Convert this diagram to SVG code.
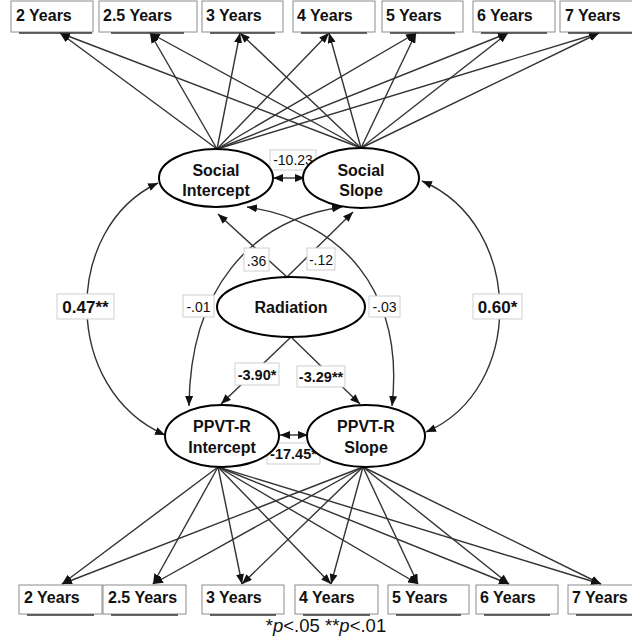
<svg xmlns="http://www.w3.org/2000/svg" width="632" height="637" viewBox="0 0 632 637">
<style>
.box{fill:#fff;stroke:#8c8c8c;stroke-width:1}
.shadow{stroke:#333;stroke-width:1.6}
.bt{font-family:"Liberation Sans",Arial,sans-serif;font-weight:bold;font-size:16px;fill:#111}
.ell{fill:#fff;stroke:#000;stroke-width:2}
.et{font-family:"Liberation Sans",Arial,sans-serif;font-weight:bold;font-size:16px;fill:#111;text-anchor:middle}
.c{fill:none;stroke:#333;stroke-width:1.4;marker-end:url(#ah)}
.d{fill:none;stroke:#333;stroke-width:1.4;marker-end:url(#ah);marker-start:url(#ah)}
.lb{fill:#fff;stroke:#cfcfcf;stroke-width:1}
.lt{font-family:"Liberation Sans",Arial,sans-serif;font-size:14px;fill:#111;text-anchor:middle}
.ltb{font-family:"Liberation Sans",Arial,sans-serif;font-size:14.5px;font-weight:bold;fill:#111;text-anchor:middle}
.big{font-family:"Liberation Sans",Arial,sans-serif;font-size:17px;font-weight:bold;fill:#111;text-anchor:middle}
</style>
<defs>
<marker id="ah" viewBox="0 0 10 8" refX="10" refY="4" markerWidth="10" markerHeight="8" markerUnits="userSpaceOnUse" orient="auto-start-reverse">
<path d="M0,0 L10,4 L0,8 z" fill="#111"/>
</marker>
</defs>
<rect width="632" height="637" fill="#fff"/>

<g id="connectors">
<!-- Social Intercept loadings -->
<path class="c" d="M217,149 L60,33"/>
<path class="c" d="M217,149 L150,33"/>
<path class="c" d="M217,149 L240,33"/>
<path class="c" d="M217,149 L329,33"/>
<path class="c" d="M217,149 L416,33"/>
<path class="c" d="M217,149 L508,33"/>
<path class="c" d="M217,149 L599,33"/>
<!-- Social Slope loadings -->
<path class="c" d="M361,148 L60,33"/>
<path class="c" d="M361,148 L150,33"/>
<path class="c" d="M361,148 L240,33"/>
<path class="c" d="M361,148 L329,33"/>
<path class="c" d="M361,148 L416,33"/>
<path class="c" d="M361,148 L508,33"/>
<path class="c" d="M361,148 L599,33"/>
<!-- PPVT-R Intercept loadings -->
<path class="c" d="M218,467 L62,584"/>
<path class="c" d="M218,467 L153,584"/>
<path class="c" d="M218,467 L242,584"/>
<path class="c" d="M218,467 L331,584"/>
<path class="c" d="M218,467 L418,584"/>
<path class="c" d="M218,467 L509,584"/>
<path class="c" d="M218,467 L601,584"/>
<!-- PPVT-R Slope loadings -->
<path class="c" d="M363,467 L62,584"/>
<path class="c" d="M363,467 L153,584"/>
<path class="c" d="M363,467 L242,584"/>
<path class="c" d="M363,467 L331,584"/>
<path class="c" d="M363,467 L418,584"/>
<path class="c" d="M363,467 L509,584"/>
<path class="c" d="M363,467 L601,584"/>
<!-- covariances -->
<path class="d" d="M273,178 L305,178"/>
<path class="d" d="M280,435 L308,435"/>
<path class="d" d="M158,183 C62,228 62,390 165,435"/>
<path class="d" d="M422,181 C525,225 525,390 426,432"/>
<path class="d" d="M342,207 C250,220 190,290 189,406"/>
<path class="d" d="M247,207 C340,220 405,290 392,406"/>
<!-- radiation paths -->
<path class="c" d="M287,277 L218,214"/>
<path class="c" d="M287,277 L353,212"/>
<path class="c" d="M291,337 L221,404"/>
<path class="c" d="M291,337 L360,404"/>
</g>

<g id="labels">
<rect class="lb" x="270" y="150" width="46" height="20"/>
<text class="lt" x="293" y="165">-10.23</text>
<rect class="lb" x="244" y="248" width="25" height="23"/>
<text class="lt" x="256.5" y="266">.36</text>
<rect class="lb" x="307" y="248" width="28" height="22"/>
<text class="lt" x="321" y="265">-.12</text>
<rect class="lb" x="183" y="295" width="31" height="22"/>
<text class="lt" x="198.5" y="312">-.01</text>
<rect class="lb" x="369" y="296" width="31" height="21"/>
<text class="lt" x="384.5" y="312">-.03</text>
<rect class="lb" x="57" y="294" width="57" height="25"/>
<text class="big" x="85.5" y="313">0.47**</text>
<rect class="lb" x="473" y="294" width="49" height="25"/>
<text class="big" x="497.5" y="313">0.60*</text>
<rect class="lb" x="235" y="363" width="44" height="22"/>
<text class="ltb" x="257" y="380">-3.90*</text>
<rect class="lb" x="297" y="366" width="48" height="21"/>
<text class="ltb" x="321" y="382">-3.29**</text>
<rect class="lb" x="267" y="443" width="53" height="21"/>
<text class="ltb" x="293.5" y="459">-17.45*</text>
</g>

<g id="social-intercept">
<ellipse class="ell" cx="216" cy="178" rx="57" ry="29"/>
<text class="et" x="216" y="176">Social</text>
<text class="et" x="216" y="196">Intercept</text>
</g>
<g id="social-slope">
<ellipse class="ell" cx="361" cy="178" rx="58" ry="30"/>
<text class="et" x="361" y="176">Social</text>
<text class="et" x="361" y="196">Slope</text>
</g>
<g id="radiation">
<ellipse class="ell" cx="291" cy="307" rx="74" ry="30"/>
<text class="et" x="291" y="313">Radiation</text>
</g>
<g id="ppvt-intercept">
<ellipse class="ell" cx="222" cy="436" rx="57" ry="31"/>
<text class="et" x="222" y="432">PPVT-R</text>
<text class="et" x="222" y="453">Intercept</text>
</g>
<g id="ppvt-slope">
<ellipse class="ell" cx="366" cy="436" rx="59" ry="31"/>
<text class="et" x="366" y="432">PPVT-R</text>
<text class="et" x="366" y="453">Slope</text>
</g>

<g id="top-2y"><rect class="box" x="11" y="1" width="82" height="31"/><line class="shadow" x1="19" y1="33" x2="92" y2="33"/><text class="bt" x="16" y="21">2 Years</text></g>
<g id="top-2-5y"><rect class="box" x="99" y="1" width="98" height="31"/><line class="shadow" x1="111" y1="33" x2="184" y2="33"/><text class="bt" x="103" y="21">2.5 Years</text></g>
<g id="top-3y"><rect class="box" x="202" y="1" width="81" height="31"/><line class="shadow" x1="210" y1="33" x2="275" y2="33"/><text class="bt" x="206" y="21">3 Years</text></g>
<g id="top-4y"><rect class="box" x="293" y="1" width="82" height="31"/><line class="shadow" x1="301" y1="33" x2="367" y2="33"/><text class="bt" x="297" y="21">4 Years</text></g>
<g id="top-5y"><rect class="box" x="382" y="1" width="81" height="31"/><line class="shadow" x1="390" y1="33" x2="455" y2="33"/><text class="bt" x="386" y="21">5 Years</text></g>
<g id="top-6y"><rect class="box" x="473" y="1" width="82" height="31"/><line class="shadow" x1="481" y1="33" x2="547" y2="33"/><text class="bt" x="477" y="21">6 Years</text></g>
<g id="top-7y"><rect class="box" x="560" y="1" width="76" height="31"/><line class="shadow" x1="568" y1="33" x2="632" y2="33"/><text class="bt" x="565" y="21">7 Years</text></g>

<g id="bot-2y"><rect class="box" x="19" y="585" width="83" height="29"/><line class="shadow" x1="27" y1="615" x2="94" y2="615"/><text class="bt" x="24" y="603">2 Years</text></g>
<g id="bot-2-5y"><rect class="box" x="103" y="585" width="83" height="29"/><line class="shadow" x1="111" y1="615" x2="178" y2="615"/><text class="bt" x="108" y="603">2.5 Years</text></g>
<g id="bot-3y"><rect class="box" x="202" y="585" width="82" height="29"/><line class="shadow" x1="210" y1="615" x2="276" y2="615"/><text class="bt" x="206" y="603">3 Years</text></g>
<g id="bot-4y"><rect class="box" x="295" y="585" width="83" height="29"/><line class="shadow" x1="303" y1="615" x2="370" y2="615"/><text class="bt" x="299" y="603">4 Years</text></g>
<g id="bot-5y"><rect class="box" x="388" y="585" width="81" height="29"/><line class="shadow" x1="396" y1="615" x2="461" y2="615"/><text class="bt" x="392" y="603">5 Years</text></g>
<g id="bot-6y"><rect class="box" x="476" y="585" width="82" height="29"/><line class="shadow" x1="484" y1="615" x2="550" y2="615"/><text class="bt" x="480" y="603">6 Years</text></g>
<g id="bot-7y"><rect class="box" x="568" y="585" width="68" height="29"/><line class="shadow" x1="576" y1="615" x2="632" y2="615"/><text class="bt" x="572" y="603">7 Years</text></g>

<text x="326" y="632" font-family="'Liberation Sans',Arial,sans-serif" font-size="18.5" fill="#111" text-anchor="middle">*<tspan font-style="italic">p</tspan>&lt;.05 **<tspan font-style="italic">p</tspan>&lt;.01</text>
</svg>
